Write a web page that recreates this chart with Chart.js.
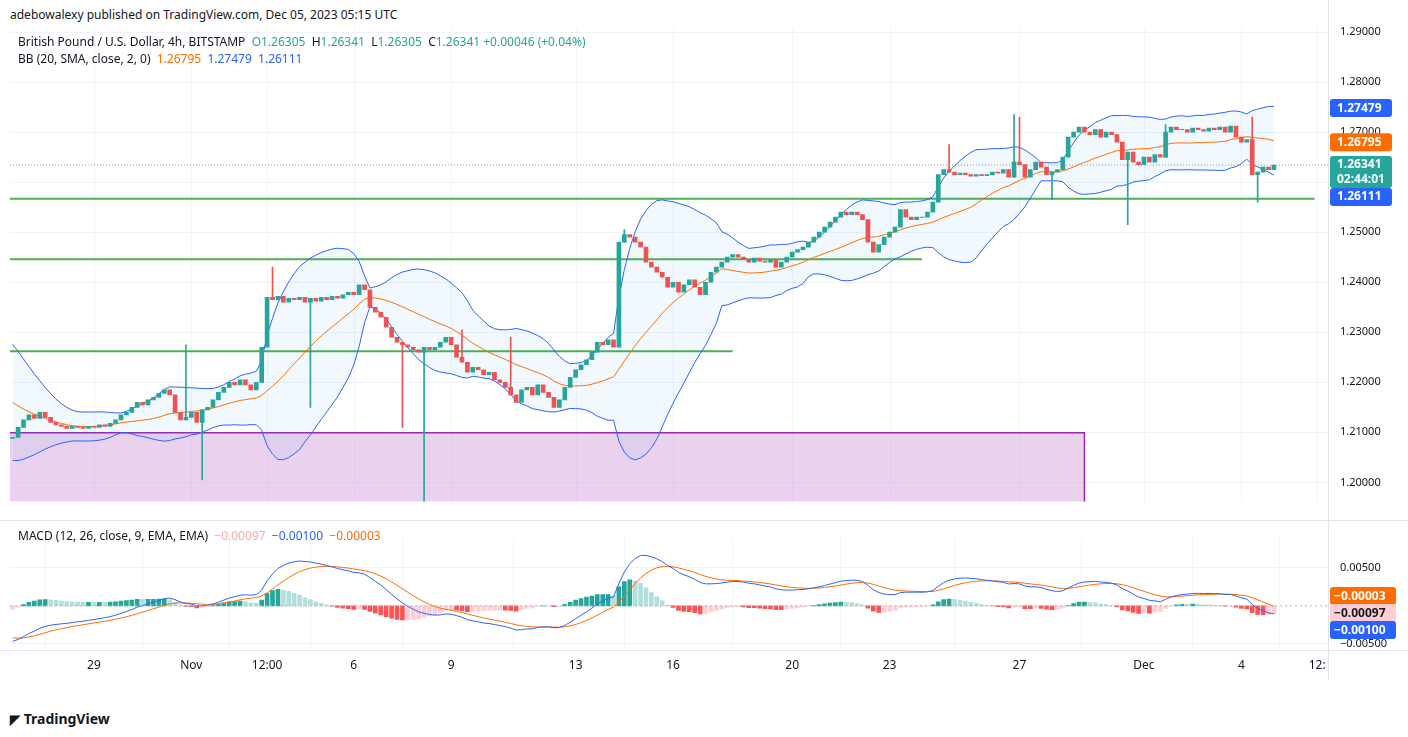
<!DOCTYPE html>
<html><head><meta charset="utf-8">
<script src="https://cdn.jsdelivr.net/npm/chart.js@4.4.0/dist/chart.umd.min.js"></script>
<style>
body{margin:0;width:1408px;height:737px;background:#fff;font-family:"Noto Sans",Arial,sans-serif;color:#131722;position:relative;overflow:hidden}
canvas{position:absolute;left:0}
.t{position:absolute;font-size:12px;white-space:nowrap}
.g{color:#26a69a}.o{color:#ff6d00}.b{color:#2962ff}.p{color:#f7a9a9}
</style></head><body>
<div class="t" style="left:10px;top:6px;font-size:12px">adebowalexy published on TradingView.com, Dec 05, 2023 05:15 UTC</div>
<canvas id="c1" width="1408" height="520" style="top:0"></canvas>
<canvas id="c2" width="1408" height="160" style="top:520px"></canvas>
<div class="t" style="left:18px;top:33px">British Pound / U.S. Dollar, 4h, BITSTAMP&nbsp; <span class="g">O</span><span class="g">1.26305</span> &nbsp;H<span class="g">1.26341</span> &nbsp;L<span class="g">1.26305</span> &nbsp;C<span class="g">1.26341</span> <span class="g">+0.00046 (+0.04%)</span></div>
<div class="t" style="left:18px;top:50px">BB (20, SMA, close, 2, 0)&nbsp; <span class="o">1.26795</span>&nbsp; <span class="b">1.27479</span>&nbsp; <span class="b">1.26111</span></div>
<div class="t" style="left:18px;top:527px">MACD (12, 26, close, 9, EMA, EMA)&nbsp; <span class="p">−0.00097</span>&nbsp; <span class="b">−0.00100</span>&nbsp; <span class="o">−0.00003</span></div>
<div class="t" style="left:10px;top:709px;font-size:14px;font-weight:bold"><span style="font-size:13px">◤</span> TradingView</div>
<script>
const warmup=[1.2290,1.2295,1.2285,1.2280,1.2270,1.2275,1.2265,1.2255,1.2250,1.2240,1.2230,1.2220,1.2210,1.2195,1.2185,1.2170,1.2160,1.2150,1.2135,1.2120,1.2110,1.2105,1.2100,1.2095,1.2090,1.2088];
const closes=[
1.2090,1.2110,1.2125,1.2135,1.2128,1.2140,
1.2130,1.2120,1.2115,1.2112,1.2108,1.2112,
1.2110,1.2108,1.2112,1.2110,1.2115,1.2112,
1.2118,1.2125,1.2135,1.2140,1.2150,1.2160,
1.2155,1.2165,1.2170,1.2178,1.2185,1.2175,
1.2140,1.2125,1.2130,1.2140,1.2120,1.2145,
1.2150,1.2165,1.2180,1.2190,1.2200,1.2195,
1.2205,1.2195,1.2185,1.2200,1.2270,1.2370,
1.2365,1.2372,1.2360,1.2368,1.2365,1.2370,
1.2360,1.2368,1.2362,1.2370,1.2365,1.2372,
1.2368,1.2375,1.2380,1.2375,1.2395,1.2385,
1.2350,1.2340,1.2330,1.2310,1.2290,1.2280,
1.2275,1.2270,1.2265,1.2260,1.2270,1.2265,
1.2270,1.2280,1.2290,1.2275,1.2250,1.2240,
1.2220,1.2230,1.2225,1.2215,1.2220,1.2205,
1.2200,1.2190,1.2175,1.2160,1.2185,1.2190,
1.2175,1.2195,1.2180,1.2170,1.2150,1.2165,
1.2190,1.2210,1.2225,1.2235,1.2245,1.2260,
1.2280,1.2275,1.2285,1.2270,1.2480,1.2495,
1.2490,1.2480,1.2470,1.2440,1.2430,1.2420,
1.2410,1.2390,1.2400,1.2380,1.2395,1.2405,
1.2390,1.2375,1.2400,1.2420,1.2430,1.2440,
1.2450,1.2455,1.2450,1.2445,1.2440,1.2448,
1.2442,1.2440,1.2445,1.2430,1.2440,1.2450,
1.2460,1.2465,1.2470,1.2480,1.2490,1.2500,
1.2510,1.2520,1.2530,1.2540,1.2535,1.2540,
1.2535,1.2525,1.2480,1.2460,1.2475,1.2490,
1.2500,1.2510,1.2545,1.2530,1.2525,1.2530,
1.2530,1.2540,1.2560,1.2615,1.2625,1.2620,
1.2615,1.2618,1.2615,1.2612,1.2615,1.2613,
1.2615,1.2620,1.2618,1.2625,1.2610,1.2640,
1.2635,1.2610,1.2625,1.2640,1.2630,1.2615,
1.2620,1.2625,1.2650,1.2690,1.2700,1.2710,
1.2700,1.2695,1.2705,1.2690,1.2700,1.2695,
1.2680,1.2645,1.2660,1.2640,1.2635,1.2650,
1.2640,1.2655,1.2650,1.2700,1.2710,1.2705,
1.2705,1.2700,1.2708,1.2705,1.2702,1.2708,
1.2705,1.2710,1.2700,1.2712,1.2690,1.2680,
1.2685,1.2615,1.2620,1.2630,1.2625,1.2634];
const wickIdx=[32,35,48,55,72,76,83,92,113,173,185,186,192,206,213,229,230];
const wickHi =[1.2275,null,1.2430,null,null,null,1.2305,1.2290,1.2505,1.2675,1.2735,1.2730,null,null,1.2715,1.2730,null];
const wickLo =[null,1.2005,null,1.2150,1.2110,1.1960,null,null,null,null,null,null,1.2565,1.2515,null,null,1.2560];
const tickIdx=[15,33,47,63,81,104,122,144,162,186,209,227,241];
const tickLabels=['29','Nov','12:00','6','9','13','16','20','23','27','Dec','4','12:'];
const priceTicks=[1.20,1.21,1.22,1.23,1.24,1.25,1.26,1.27,1.28,1.29];
const levels=[[1.2567,-0.5,240.5],[1.2446,-0.5,168],[1.2262,-0.5,133]];
const zone={top:1.2099,bottom:1.1962,x1:-0.5,x2:198};
const bbLast={upper:1.27479,basis:1.26795,lower:1.26111,close:1.26341};
const macdLast={signal:-0.00003,hist:-0.00097,macd:-0.00100};

const W=warmup.length, all=warmup.concat(closes);
const opens=all.map((c,i)=>i? all[i-1]:c);
const upper=[],lower=[],basis=[];
for(let i=W;i<all.length;i++){const s=all.slice(i-19,i+1);const m=s.reduce((a,b)=>a+b)/20;const sd=Math.sqrt(s.reduce((a,b)=>a+(b-m)**2,0)/20);basis.push({x:i-W,y:m});upper.push({x:i-W,y:m+2*sd});lower.push({x:i-W,y:m-2*sd});}
function ema(arr,n){const k=2/(n+1);let e=arr[0];return arr.map(v=>e=v*k+e*(1-k));}
const e12=ema(all,12),e26=ema(all,26),macd=all.map((v,i)=>e12[i]-e26[i]),sig=ema(macd,9);
const macdL=[],sigL=[],hist=[],histC=[];
for(let i=W;i<all.length;i++){const h=macd[i]-sig[i],ph=macd[i-1]-sig[i-1];macdL.push({x:i-W,y:macd[i]});sigL.push({x:i-W,y:sig[i]});hist.push({x:i-W,y:[0,h]});
histC.push(h>=0?(h>=ph?'#26a69a':'#b2dfdb'):(h<ph?'#ff5252':'#ffcdd2'));}
const bodies=[],bodyC=[],wicks=[];
closes.forEach((c,i)=>{const o=opens[i+W];let a=Math.min(o,c),b=Math.max(o,c);if(b-a<0.00008){b+=0.00004;a-=0.00004;}bodies.push({x:i,y:[a,b]});bodyC.push(c>=o?'#26a69a':'#ef5350');
const k=wickIdx.indexOf(i);if(k>=0){wicks.push({x:i,y:[wickLo[k]??a,wickHi[k]??b]});}});
const wickC=wicks.map(w=>bodyC[w.x]);

const xScale=(show)=>({type:'linear',offset:false,display:show,min:-0.5,max:243,grid:{color:'#f0f3fa',drawTicks:false},border:{display:false},
 afterBuildTicks:a=>{a.ticks=tickIdx.map(v=>({value:v}));},
 ticks:{padding:8,color:'#131722',font:{size:12,family:'Noto Sans'},autoSkip:false,maxRotation:0,callback:(v)=>tickLabels[tickIdx.indexOf(v)]??''},
 afterFit:s=>{s.height=show?30:0;}});
const yFit=s=>{s.width=80;};

const overlay={id:'ov',beforeDatasetsDraw(ch){const c=ch.ctx,x=ch.scales.x,y=ch.scales.y,ca=ch.chartArea;c.save();
 c.strokeStyle='#f0f3fa';c.lineWidth=1;tickIdx.forEach(t=>{const px=Math.round(x.getPixelForValue(t))+0.5;c.beginPath();c.moveTo(px,ca.top);c.lineTo(px,ca.bottom);c.stroke();});
 const zx1=x.getPixelForValue(zone.x1),zx2=x.getPixelForValue(zone.x2),zt=y.getPixelForValue(zone.top),zb=y.getPixelForValue(zone.bottom);
 c.fillStyle='rgba(206,147,216,0.42)';c.fillRect(zx1,zt,zx2-zx1,zb-zt);c.strokeStyle='#9c27b0';c.lineWidth=1.5;c.beginPath();c.moveTo(zx1,zt);c.lineTo(zx2,zt);c.lineTo(zx2,zb);c.stroke();
 c.strokeStyle='#4caf50';c.lineWidth=2;levels.forEach(l=>{const py=y.getPixelForValue(l[0]);c.beginPath();c.moveTo(x.getPixelForValue(l[1]),py);c.lineTo(x.getPixelForValue(l[2]),py);c.stroke();});
 const ly=y.getPixelForValue(closes[closes.length-1]);c.strokeStyle='#9598a1';c.lineWidth=1;c.setLineDash([1,2]);c.beginPath();c.moveTo(ca.left,ly);c.lineTo(ca.right,ly);c.stroke();c.restore();},
 afterDraw(ch){const c=ch.ctx,y=ch.scales.y,ca=ch.chartArea;c.save();c.strokeStyle='#e0e3eb';c.lineWidth=1;c.beginPath();c.moveTo(ca.right+0.5,0);c.lineTo(ca.right+0.5,ch.height);c.stroke();
 const lab=(py,txt,bg,fg,h)=>{c.fillStyle=bg;c.beginPath();c.roundRect(ca.right+2,py-9,62,h||18,3);c.fill();c.fillStyle=fg;c.font='bold 12px Noto Sans';c.textBaseline='middle';c.fillText(txt[0],ca.right+9,py);if(txt[1])c.fillText(txt[1],ca.right+9,py+15);};
 const cy=y.getPixelForValue(bbLast.close);
 lab(y.getPixelForValue(bbLast.upper),['1.27479'],'#2962ff','#fff');lab(y.getPixelForValue(bbLast.basis),['1.26795'],'#ff6d00','#fff');lab(cy,['1.26341','02:44:01'],'#26a69a','#fff',32);lab(Math.max(y.getPixelForValue(bbLast.lower),cy+32),['1.26111'],'#2962ff','#fff');c.restore();}};

new Chart(document.getElementById('c1'),{type:'bar',
 data:{datasets:[
 {type:'line',data:upper,borderColor:'#2962ff',borderWidth:1,pointRadius:0,fill:false,order:5},
 {type:'line',data:lower,borderColor:'#2962ff',borderWidth:1,pointRadius:0,fill:'-1',backgroundColor:'rgba(33,150,243,0.06)',order:5},
 {type:'line',data:basis,borderColor:'#ff6d00',borderWidth:1,pointRadius:0,fill:false,order:4},
 {data:wicks,backgroundColor:wickC,barThickness:1,grouped:false,order:2},
 {data:bodies,backgroundColor:bodyC,barThickness:4,grouped:false,order:1}]},
 options:{responsive:false,animation:false,layout:{padding:{top:27,left:10,bottom:0}},plugins:{legend:{display:false},tooltip:{enabled:false}},
 scales:{x:xScale(false),y:{position:'right',min:1.1962,max:1.2910,grid:{color:'#f0f3fa',drawTicks:false},border:{display:false},afterFit:yFit,
 afterBuildTicks:a=>{a.ticks=priceTicks.map(v=>({value:v}));},ticks:{padding:12,color:'#131722',font:{size:11,family:'Noto Sans'},callback:v=>v.toFixed(5)}}}},
 plugins:[overlay]});

const ov2={id:'ov2',afterDraw(ch){const c=ch.ctx,y=ch.scales.y,ca=ch.chartArea;c.save();c.strokeStyle='#e0e3eb';c.lineWidth=1;c.beginPath();c.moveTo(0,0.5);c.lineTo(ch.width,0.5);c.moveTo(ca.right+0.5,0);c.lineTo(ca.right+0.5,ch.height);c.moveTo(0,ca.bottom+0.5);c.lineTo(ch.width,ca.bottom+0.5);c.stroke();
 const zy=y.getPixelForValue(0);c.strokeStyle='#b2b5be';c.setLineDash([2,3]);c.beginPath();c.moveTo(ca.left,zy);c.lineTo(ca.right,zy);c.stroke();c.setLineDash([]);
 const lab=(py,txt,bg,fg)=>{c.fillStyle=bg;c.beginPath();c.roundRect(ca.right+2,py-9,66,18,3);c.fill();c.fillStyle=fg;c.font='bold 12px Noto Sans';c.textBaseline='middle';c.fillText(txt,ca.right+6,py);};
 const z=y.getPixelForValue(macdLast.signal);
 lab(z-10,'−0.00003','#ff6d00','#fff');lab(z+7,'−0.00097','#ffcdd2','#131722');lab(z+24,'−0.00100','#2962ff','#fff');c.restore();}};
new Chart(document.getElementById('c2'),{type:'bar',
 data:{datasets:[
 {type:'line',data:macdL,borderColor:'#2962ff',borderWidth:1,pointRadius:0,order:1},
 {type:'line',data:sigL,borderColor:'#ff6d00',borderWidth:1,pointRadius:0,order:1},
 {data:hist,backgroundColor:histC,barThickness:4,grouped:false,order:3}]},
 options:{responsive:false,animation:false,layout:{padding:{left:10}},plugins:{legend:{display:false},tooltip:{enabled:false}},
 scales:{x:xScale(true),y:{position:'right',min:-0.00579,max:0.00882,grid:{color:'#f0f3fa',drawTicks:false},border:{display:false},afterFit:yFit,
 afterBuildTicks:a=>{a.ticks=[{value:0.005},{value:-0.005}];},ticks:{padding:12,color:'#131722',font:{size:11,family:'Noto Sans'},callback:v=>(v<0?'−':'')+Math.abs(v).toFixed(5)}}}},
 plugins:[ov2]});
</script></body></html>
